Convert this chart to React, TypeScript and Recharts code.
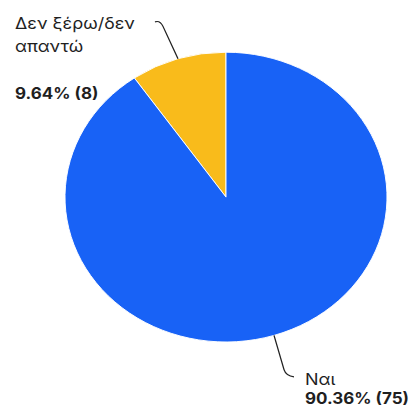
import { PieChart, Pie, Cell } from 'recharts';

const categories = ['Δεν ξέρω/δεν απαντώ', 'Ναι'];
const counts = [8, 75];
const colors = ['#F9BB1B', '#1862F6'];

const labelLines = [['Δεν ξέρω/δεν', 'απαντώ'], ['Ναι']];

const total = counts.reduce((a, b) => a + b, 0);
const data = categories.map((name, i) => ({ name, value: counts[i] }));

const RAD = Math.PI / 180;
const SQUASH = 0.9; // the reference pie is slightly flattened

const renderLabel = (props: any) => {
  const { cx, cy, midAngle, outerRadius, index, value } = props;
  const sx = cx + outerRadius * Math.cos(-midAngle * RAD);
  const sy = cy + outerRadius * Math.sin(-midAngle * RAD);
  const pct = `${((value / total) * 100).toFixed(2)}% (${value})`;
  const txt = { fontFamily: 'Inter, sans-serif', fontSize: 18, fill: '#1f1f1f' };

  if (index === 0) {
    // leader goes up-left to the text block on the top left
    const path = `M${sx},${sy} L${sx - 15},${sy - 36} Q${sx - 18},${sy - 43} ${sx - 23},${sy - 41}`;
    return (
      <g>
        <path d={path} stroke="#222" strokeWidth={1.3} fill="none" />
        <text x={15} y={32} {...txt}>{labelLines[0][0]}</text>
        <text x={15} y={58} {...txt}>{labelLines[0][1]}</text>
        <text x={15} y={110} {...txt} fontSize={17} fontWeight={700}>{pct}</text>
      </g>
    );
  }
  const path = `M${sx},${sy} L${sx + 10},${sy + 38} Q${sx + 12},${sy + 45} ${sx + 20},${sy + 46}`;
  return (
    <g>
      <path d={path} stroke="#222" strokeWidth={1.3} fill="none" />
      <text x={305} y={428} {...txt}>{labelLines[1][0]}</text>
      <text x={305} y={449} {...txt} fontSize={17} fontWeight={700}>{pct}</text>
    </g>
  );
};

export default function App() {
  return (
    <div style={{ position: 'fixed', left: 0, top: 0, width: 416, height: 412, background: '#fff', overflow: 'hidden' }}>
      <div style={{ transform: `scaleY(${SQUASH})`, transformOrigin: 'top left' }}>
        <PieChart width={416} height={458} margin={{ top: 0, right: 0, bottom: 0, left: 0 }}>
          <Pie
            data={data}
            dataKey="value"
            nameKey="name"
            cx={226}
            cy={219}
            outerRadius={161}
            startAngle={90}
            endAngle={450}
            stroke="#fff"
            strokeWidth={1}
            label={renderLabel}
            labelLine={false}
            isAnimationActive={false}
          >
            {data.map((d, i) => (
              <Cell key={d.name} fill={colors[i]} />
            ))}
          </Pie>
        </PieChart>
      </div>
    </div>
  );
}
